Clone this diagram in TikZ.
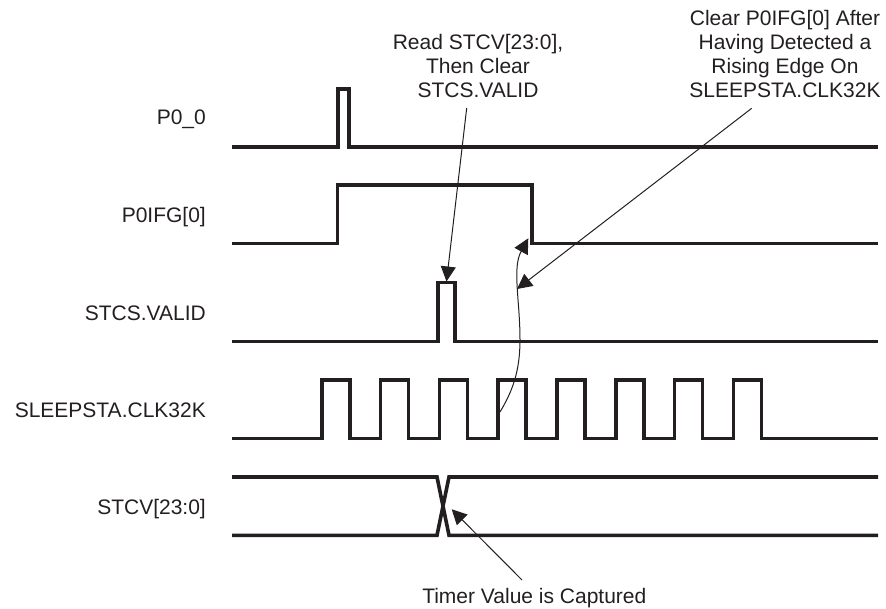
\documentclass[tikz,border=0pt]{standalone}
\usepackage{fontspec}
\setmainfont{Liberation Sans}
\usetikzlibrary{arrows.meta}
\definecolor{ink}{HTML}{231F20}
\begin{document}
\begin{tikzpicture}[x=1pt,y=-1pt,
  wave/.style={draw=ink,line width=3.6pt,line join=miter},
  note/.style={draw=ink,line width=1pt},
  tipped/.style={-{Triangle[length=15pt,width=15pt]}},
  lbl/.style={font=\fontsize{21}{24}\selectfont,text=ink,inner sep=0pt},
]
\useasboundingbox (0,0) rectangle (886,609);

% signal names
\node[lbl,anchor=base east] (lp00)  at (206,125)   {P0\_0};
\node[lbl,anchor=base east] (lpifg) at (206,222.5) {P0IFG[0]};
\node[lbl,anchor=base east] (lval)  at (206,320.5) {STCS.VALID};
\node[lbl,anchor=base east] (lclk)  at (206,417.5) {SLEEPSTA.CLK32K};
\node[lbl,anchor=base east] (lstcv) at (206,514)   {STCV[23:0]};

% waveforms
\draw[wave] (232,147) -- (338,147) -- (338,89) -- (349,89) -- (349,147) -- (878,147);
\draw[wave] (232,243.5) -- (337.5,243.5) -- (337.5,185) -- (531.7,185) -- (531.7,243.5) -- (878,243.5);
\draw[wave] (232,341.7) -- (437.7,341.7) -- (437.7,282.7) -- (455,282.7) -- (455,341.7) -- (878,341.7);
\draw[wave] (232,438.3) foreach \i in {0,...,7} {
   -- ({321.7+58.8*\i},438.3) -- ({321.7+58.8*\i},380) -- ({349.7+58.8*\i},380) -- ({349.7+58.8*\i},438.3) }
   -- (878,438.3);
\draw[wave] (232,477) -- (437,477) -- (449,535.3) -- (878,535.3);
\draw[wave] (232,535.3) -- (437,535.3) -- (449,477) -- (878,477);

% annotations
\node[lbl,align=center,anchor=south] (n1) at (478,98) {Read STCV[23:0],\\Then Clear\\STCS.VALID};
\node[lbl,align=center,anchor=south] (n2) at (785,98) {Clear P0IFG[0] After\\Having Detected a\\Rising Edge On\\SLEEPSTA.CLK32K};
\node[lbl,anchor=base] (n3) at (534.3,603) {Timer Value is Captured};

\coordinate (a1s) at (466.7,108);
\coordinate (a1t) at (446.5,281.5);
\coordinate (a2s) at (751.7,108.3);
\coordinate (a2t) at (517,289);
\coordinate (a3s) at (500,412);
\coordinate (a3t) at (528.3,238.3);
\coordinate (a4s) at (522,580);
\coordinate (a4t) at (451.7,509.3);

\draw[note,tipped] (a1s) -- (a1t);
\draw[note,tipped] (a2s) -- (a2t);
\draw[note,tipped] (a3s) .. controls (512,392) and (520,372) .. (520,340)
                        .. controls (520,300) and (512,268) .. (a3t);
\draw[note,tipped] (a4s) -- (a4t);
\end{tikzpicture}
\end{document}
